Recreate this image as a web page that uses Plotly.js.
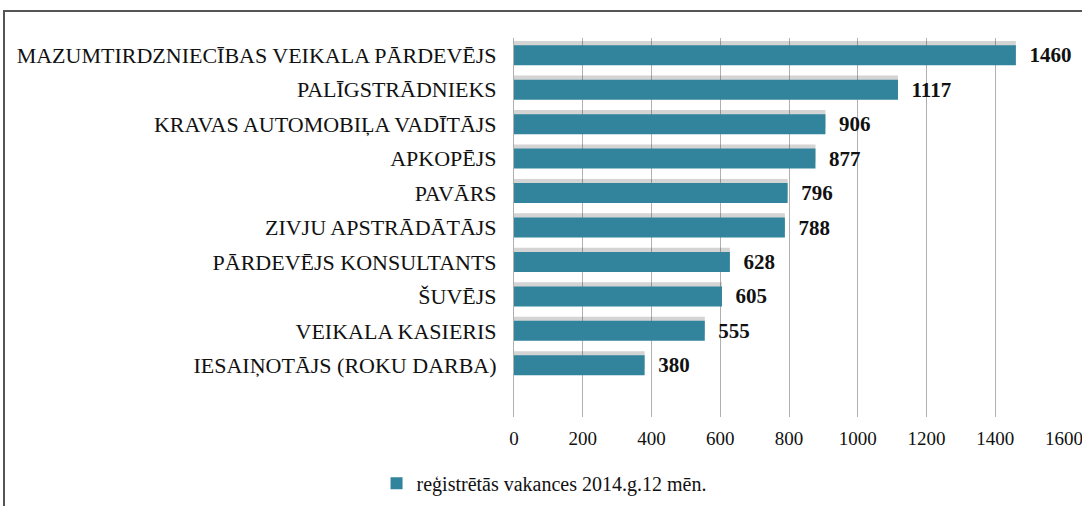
<!DOCTYPE html>
<html>
<head>
<meta charset="utf-8">
<script src="https://cdn.plot.ly/plotly-3.0.1.min.js"></script>
<style>
html,body{margin:0;padding:0;background:#fff;}
#wrap{position:relative;width:1082px;height:506px;overflow:hidden;}
#chart{width:1082px;height:506px;}
#frame{position:absolute;left:3px;top:10px;width:1200px;height:600px;border-top:2px solid #555;border-left:2px solid #555;pointer-events:none;}
</style>
</head>
<body>
<div id="wrap">
<div id="chart"></div>
<div id="frame"></div>
</div>
<script>
const categories = [
  "MAZUMTIRDZNIECĪBAS VEIKALA PĀRDEVĒJS",
  "PALĪGSTRĀDNIEKS",
  "KRAVAS AUTOMOBIĻA VADĪTĀJS",
  "APKOPĒJS",
  "PAVĀRS",
  "ZIVJU APSTRĀDĀTĀJS",
  "PĀRDEVĒJS KONSULTANTS",
  "ŠUVĒJS",
  "VEIKALA KASIERIS",
  "IESAIŅOTĀJS (ROKU DARBA)"
];
const vacancies = [1460, 1117, 906, 877, 796, 788, 628, 605, 555, 380];
const seriesName = "reģistrētās vakances 2014.g.12 mēn.";
const xTicks = [0, 200, 400, 600, 800, 1000, 1200, 1400, 1600];

const serif = "Liberation Serif, Times New Roman, serif";

const shadow = {
  type: "bar",
  orientation: "h",
  x: vacancies,
  y: categories,
  showlegend: false,
  hoverinfo: "skip",
  width: 0.5,
  offset: -0.41,
  marker: {color: "rgba(60,60,60,0.22)", line: {width: 0}}
};

const trace = {
  type: "bar",
  orientation: "h",
  x: vacancies,
  y: categories,
  name: seriesName,
  width: 0.58,
  offset: -0.29,
  marker: {color: "#31849B", line: {width: 0}},
  text: vacancies.map(v => String(v)),
  texttemplate: "  %{text}",
  textposition: "outside",
  constraintext: "none",
  textfont: {family: serif, size: 21, color: "#111", weight: "bold"},
  cliponaxis: false,
  hoverinfo: "x+y"
};

const layout = {
  width: 1082,
  height: 506,
  margin: {l: 514, r: 18, t: 38, b: 89},
  paper_bgcolor: "#fff",
  plot_bgcolor: "#fff",
  font: {family: serif, color: "#111"},
  barmode: "overlay",
  showlegend: true,
  legend: {
    orientation: "h",
    xref: "container", yref: "container",
    x: 0.348, y: 0.045, xanchor: "left", yanchor: "middle",
    font: {family: serif, size: 20, color: "#111"},
    itemwidth: 30
  },
  xaxis: {
    range: [0, 1600],
    tickvals: xTicks,
    ticktext: xTicks.map(String),
    showgrid: true,
    gridcolor: "#B0B0B0",
    gridwidth: 1,
    zeroline: false,
    showline: false,
    ticks: "",
    tickfont: {family: serif, size: 19, color: "#111"},
    ticklabelstandoff: 8,
    ticklabeloverflow: "allow",
    fixedrange: true
  },
  yaxis: {
    type: "category",
    categoryorder: "array",
    categoryarray: categories,
    range: [10.5, -0.5],
    showgrid: false,
    zeroline: false,
    showline: true,
    linecolor: "#B0B0B0",
    linewidth: 1,
    ticks: "",
    ticklabelstandoff: 12,
    tickfont: {family: serif, size: 22, color: "#111"},
    fixedrange: true
  }
};

Plotly.newPlot("chart", [shadow, trace], layout, {displayModeBar: false, staticPlot: true});
</script>
</body>
</html>
